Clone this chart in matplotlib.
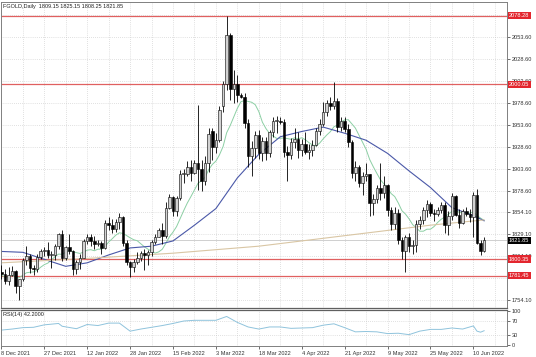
import numpy as np
import pandas as pd
import matplotlib
matplotlib.use('Agg')
import matplotlib.pyplot as plt
import matplotlib.transforms as mtransforms

plt.rcParams['font.family'] = ['Liberation Sans', 'DejaVu Sans']

# daily candles, 8 Dec 2021 .. 15 Jun 2022 (bar index 0..135)
opens = [1785, 1783, 1775, 1782, 1787, 1770, 1777, 1799, 1804, 1790,
         1789, 1803, 1809, 1811, 1805, 1805, 1815, 1829, 1801, 1814,
         1810, 1789, 1797, 1802, 1821, 1826, 1821, 1817, 1819, 1813,
         1842, 1839, 1835, 1843, 1848, 1819, 1797, 1791, 1797, 1801,
         1807, 1805, 1808, 1820, 1826, 1833, 1827, 1859, 1871, 1855,
         1870, 1898, 1898, 1906, 1899, 1910, 1903, 1889, 1910, 1946,
         1928, 1936, 1975, 2000, 2056, 1994, 2000, 1988, 1985, 1956,
         1918, 1927, 1942, 1921, 1935, 1921, 1945, 1958, 1958, 1957,
         1923, 1919, 1934, 1937, 1925, 1932, 1923, 1925, 1931, 1946,
         1955, 1968, 1978, 1975, 1981, 1951, 1958, 1949, 1934, 1899,
         1906, 1887, 1895, 1897, 1864, 1869, 1882, 1876, 1885, 1856,
         1840, 1853, 1822, 1809, 1825, 1815, 1816, 1840, 1845, 1856,
         1863, 1853, 1852, 1856, 1862, 1839, 1849, 1872, 1851, 1842,
         1855, 1852, 1848, 1874, 1819, 1809.15]
highs = [1793, 1789, 1791, 1792, 1788, 1778, 1801, 1815, 1806, 1794,
         1806, 1812, 1814, 1820, 1810, 1817, 1830, 1833, 1815, 1829,
         1811, 1799, 1806, 1823, 1829, 1829, 1827, 1822, 1821, 1845,
         1848, 1846, 1846, 1853, 1850, 1822, 1798, 1800, 1808, 1810,
         1812, 1811, 1822, 1829, 1836, 1842, 1865, 1875, 1872, 1872,
         1902, 1903, 1912, 1914, 1913, 1976, 1914, 1918, 1950, 1950,
         1944, 1975, 2004, 2078, 2058, 2016, 2010, 1990, 1990, 1960,
         1935, 1947, 1948, 1940, 1940, 1948, 1962, 1964, 1962, 1960,
         1930, 1939, 1950, 1945, 1937, 1945, 1932, 1936, 1950, 1960,
         1980, 1982, 1985, 2003, 1984, 1962, 1962, 1955, 1936, 1912,
         1908, 1900, 1910, 1898, 1875, 1885, 1910, 1895, 1886, 1860,
         1860, 1857, 1826, 1828, 1830, 1822, 1845, 1850, 1860, 1868,
         1866, 1858, 1860, 1866, 1866, 1855, 1876, 1874, 1857, 1857,
         1860, 1857, 1877, 1880, 1822, 1825.15]
lows = [1778, 1772, 1771, 1781, 1762, 1753, 1775, 1794, 1784, 1782,
        1785, 1800, 1804, 1802, 1790, 1799, 1812, 1798, 1799, 1806,
        1782, 1783, 1789, 1801, 1818, 1815, 1812, 1815, 1806, 1812,
        1834, 1830, 1831, 1835, 1815, 1794, 1780, 1785, 1795, 1798,
        1788, 1793, 1804, 1818, 1825, 1818, 1824, 1857, 1849, 1850,
        1868, 1887, 1895, 1890, 1898, 1879, 1878, 1885, 1900, 1914,
        1922, 1934, 1968, 1993, 1982, 1978, 1980, 1984, 1950, 1906,
        1895, 1916, 1915, 1912, 1914, 1917, 1940, 1944, 1955, 1917,
        1890, 1915, 1927, 1916, 1918, 1920, 1915, 1918, 1929, 1942,
        1952, 1964, 1970, 1972, 1945, 1946, 1945, 1928, 1893, 1890,
        1883, 1873, 1889, 1850, 1851, 1864, 1868, 1870, 1850, 1833,
        1835, 1818, 1800, 1785, 1808, 1806, 1808, 1835, 1840, 1848,
        1850, 1844, 1849, 1853, 1830, 1828, 1845, 1849, 1836, 1840,
        1850, 1843, 1826, 1818, 1805, 1808.25]
closes = [1783, 1775, 1782, 1787, 1770, 1777, 1799, 1804, 1790, 1789,
          1803, 1809, 1811, 1805, 1805, 1815, 1829, 1801, 1814, 1810,
          1789, 1797, 1802, 1821, 1826, 1821, 1817, 1819, 1813, 1842,
          1839, 1835, 1843, 1848, 1819, 1797, 1791, 1797, 1801, 1807,
          1805, 1808, 1820, 1826, 1833, 1827, 1859, 1871, 1855, 1870,
          1898, 1898, 1906, 1899, 1910, 1903, 1889, 1910, 1943, 1928,
          1936, 1970, 2000, 2056, 1994, 2000, 1988, 1985, 1956, 1918,
          1927, 1942, 1921, 1935, 1921, 1945, 1958, 1958, 1957, 1923,
          1919, 1934, 1937, 1925, 1932, 1923, 1925, 1931, 1946, 1955,
          1968, 1978, 1975, 1981, 1951, 1958, 1949, 1934, 1899, 1906,
          1887, 1895, 1897, 1864, 1869, 1882, 1876, 1885, 1856, 1840,
          1853, 1822, 1809, 1825, 1815, 1816, 1840, 1845, 1856, 1863,
          1853, 1852, 1856, 1862, 1839, 1849, 1872, 1851, 1842, 1855,
          1852, 1848, 1874, 1819, 1809, 1821.85]

# slow moving average (blue) and long moving average (tan)
blue_idx = [0, 6, 12, 18, 24, 30, 36, 42, 48, 54, 60, 66, 72, 78, 84, 90,
            96, 102, 108, 114, 120, 126, 132, 135]
blue_vals = [1809, 1808, 1800, 1792, 1796, 1805, 1813, 1815, 1821, 1839, 1858,
             1893, 1920, 1940, 1946, 1951, 1944, 1936, 1921, 1901, 1882, 1859,
             1850, 1844]
tan_idx = [0, 24, 48, 72, 96, 120, 135]
tan_vals = [1796, 1801, 1807, 1815, 1827, 1839, 1845]

# RSI(14)
rsi_idx = [0, 3, 6, 9, 12, 16, 17, 21, 24, 27, 30, 33, 36, 39, 42, 45, 48, 51,
           54, 57, 60, 63, 66, 69, 72, 75, 78, 81, 84, 87, 90, 93, 96, 99, 102,
           105, 108, 111, 114, 117, 120, 123, 126, 129, 132, 133, 134, 135]
rsi_vals = [44, 47, 51, 52, 59, 63, 55, 48, 60, 57, 64, 64, 41, 47, 52, 57, 63,
            70, 72, 72, 72, 83, 66, 53, 47, 53, 53, 49, 50, 51, 58, 62, 51, 39,
            40, 39, 34, 35, 31, 41, 46, 46, 50, 47, 56, 41, 38, 42.2]

date_idx = [0, 12, 24, 36, 48, 60, 72, 84, 96, 108, 120, 132]
date_labels = ['8 Dec 2021', '27 Dec 2021', '12 Jan 2022', '28 Jan 2022',
               '15 Feb 2022', '3 Mar 2022', '18 Mar 2022', '4 Apr 2022',
               '21 Apr 2022', '9 May 2022', '25 May 2022', '10 Jun 2022']

# grid levels; the ones hidden under the red level boxes get no label
grid_levels = [2078.6, 2053.6, 2028.6, 2003.6, 1978.6, 1953.6, 1928.6, 1903.6,
               1878.6, 1854.1, 1829.1, 1804.1, 1779.1, 1754.1]
price_ticks = [2053.6, 2028.6, 2003.6, 1978.6, 1953.6, 1928.6, 1903.6,
               1878.6, 1854.1, 1829.1, 1804.1, 1754.1]
red_levels = [2078.28, 2000.05, 1800.35, 1781.45]
last_price = 1821.85

o = np.array(opens)
h = np.array(highs)
l = np.array(lows)
c = np.array(closes)
x = np.arange(len(c))
ma_fast = pd.Series(c).rolling(10, min_periods=1).mean()

fig = plt.figure(figsize=(5.36, 3.57), dpi=100)
ax = fig.add_axes([1 / 536, 1 - 308 / 357, 506 / 536, 306 / 357])
ax2 = fig.add_axes([1 / 536, 1 - 346 / 357, 506 / 536, 36 / 357])

grid_kw = dict(color='#c4c4c4', lw=0.5, ls=(0, (1, 2)))
xlim = (-0.1, 141.4)

# main panel
for gx in range(0, 142, 6):
    ax.axvline(gx, zorder=0, **grid_kw)
    ax2.axvline(gx, zorder=0, **grid_kw)
for gy in grid_levels:
    ax.axhline(gy, zorder=0, **grid_kw)

for lv in red_levels:
    ax.axhline(lv, color='#e06060', lw=0.9, zorder=1)
ax.axhline(last_price, color='#c8c8c8', lw=0.6, zorder=1)

ax.plot(x, ma_fast, color='#8ccfa4', lw=0.7, zorder=2)
ax.plot(blue_idx, blue_vals, color='#4a58a8', lw=0.8, zorder=2)
ax.plot(tan_idx, tan_vals, color='#d9c6a4', lw=0.8, zorder=2)

up = c >= o
body_lo = np.minimum(o, c)
body_h = np.maximum(np.abs(c - o), 0.8)
ax.vlines(x, l, h, color='black', lw=0.6, zorder=3)
ax.bar(x[up], body_h[up], bottom=body_lo[up], width=0.72, color='#d2d2d2',
       edgecolor='black', lw=0.4, zorder=4)
ax.bar(x[~up], body_h[~up], bottom=body_lo[~up], width=0.72, color='black',
       edgecolor='black', lw=0.4, zorder=4)

ax.set_xlim(*xlim)
ax.set_ylim(1744.4, 2093.9)
ax.yaxis.tick_right()
ax.set_yticks(price_ticks)
ax.set_yticklabels(['%.2f' % t for t in price_ticks])
ax.tick_params(axis='y', labelsize=4.1, length=2, width=0.5, pad=1.5,
               colors='#333333')
ax.set_xticks([])

trans = mtransforms.blended_transform_factory(ax.transAxes, ax.transData)
for lv in red_levels:
    ax.text(1.004, lv, '%.2f' % lv, transform=trans, fontsize=4.1,
            color='white', va='center', ha='left', zorder=10, clip_on=False,
            bbox=dict(boxstyle='square,pad=0.2', fc='#e3262e', ec='none'))
ax.text(1.004, last_price, '%.2f' % last_price, transform=trans, fontsize=4.1,
        color='white', va='center', ha='left', zorder=10, clip_on=False,
        bbox=dict(boxstyle='square,pad=0.2', fc='black', ec='none'))

ax.text(0.004, 0.995, 'FGOLD,Daily  %.2f %.2f %.2f %.2f' % (o[-1], h[-1], l[-1], c[-1]),
        transform=ax.transAxes, fontsize=4, va='top', ha='left', color='#222222')

# RSI panel
ax2.axhline(70, **grid_kw)
ax2.axhline(30, **grid_kw)
ax2.plot(rsi_idx, rsi_vals, color='#8fc3dc', lw=0.7)
ax2.set_xlim(*xlim)
ax2.set_ylim(-1.5, 101.5)
ax2.yaxis.tick_right()
ax2.set_yticks([100, 70, 30, 0])
ax2.set_yticklabels(['100', '70', '30', '0'])
ax2.tick_params(axis='y', labelsize=4.1, length=2, width=0.5, pad=1.5,
                colors='#333333')
ax2.set_xticks(date_idx)
ax2.set_xticklabels(date_labels)
ax2.tick_params(axis='x', labelsize=4.1, length=2, width=0.5, pad=1.5,
                colors='#333333')
for lab in ax2.get_xticklabels():
    lab.set_ha('left')
ax2.text(0.004, 0.94, 'RSI(14) %.4f' % rsi_vals[-1], transform=ax2.transAxes,
         fontsize=4, va='top', ha='left', color='#222222')

for a in (ax, ax2):
    for s in a.spines.values():
        s.set_color('#808080')
        s.set_linewidth(0.7)
ax.spines['bottom'].set_color('#606060')
ax.spines['bottom'].set_linewidth(0.9)
ax2.spines['top'].set_color('#606060')
ax2.spines['top'].set_linewidth(0.9)

fig.savefig('out.png', dpi=100, facecolor='white')
